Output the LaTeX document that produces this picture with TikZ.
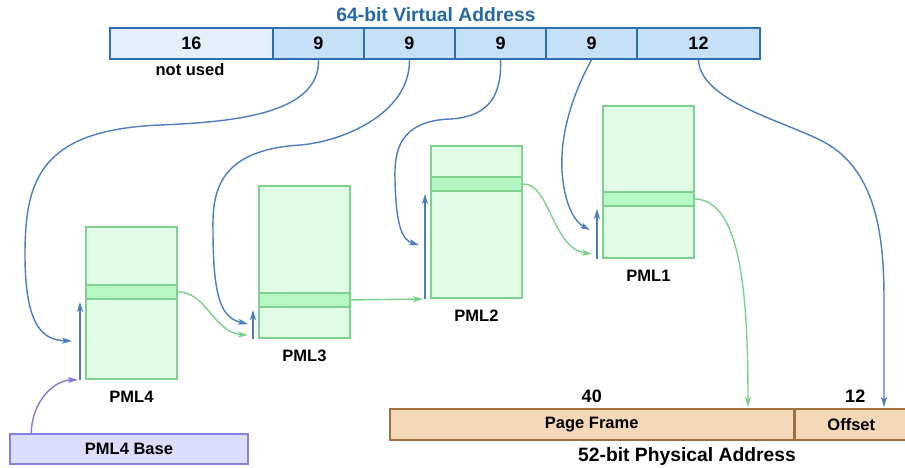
\documentclass[tikz,border=0pt]{standalone}
\usepackage{fontspec}
\setmainfont{Liberation Sans}
\usetikzlibrary{arrows.meta,positioning}

\definecolor{vfill}{HTML}{C5E0F7}
\definecolor{vfillu}{HTML}{E3F0FC}
\definecolor{vline}{HTML}{2E6EB4}
\definecolor{vtext}{HTML}{2568A8}
\definecolor{vptrc}{HTML}{4A7EBE}
\definecolor{gfill}{HTML}{E0FBE6}
\definecolor{gband}{HTML}{B6F8C4}
\definecolor{gline}{HTML}{7ED18E}
\definecolor{gptrc}{HTML}{7CCF8C}
\definecolor{pfill}{HTML}{F4D8B8}
\definecolor{pline}{HTML}{A07040}
\definecolor{bfill}{HTML}{DCDCFC}
\definecolor{bline}{HTML}{8880E0}
\definecolor{bptrc}{HTML}{8874E0}

\begin{document}
\begin{tikzpicture}[x=1pt, y=-1pt, line width=1.4pt,
   font=\bfseries\fontsize{16.5}{19}\selectfont,
   numfont/.style={font=\bfseries\fontsize{18}{20}\selectfont},
   titlefont/.style={font=\bfseries\fontsize{19.3}{22}\selectfont},
   cell/.style={draw=vline, fill=vfill, line width=1.5pt, minimum height=31pt, inner sep=0pt, numfont},
   pml/.style={draw=gline, fill=gfill, line width=1.9pt, minimum width=91pt, minimum height=152pt, inner sep=0pt, anchor=north west},
   band/.style={draw=gline, fill=gband, line width=1.9pt, minimum width=91pt, minimum height=14pt, inner sep=0pt, anchor=north west},
   paddr/.style={draw=pline, fill=pfill, line width=1.5pt, minimum height=31pt, inner sep=0pt, anchor=north west},
   tip/.style={-{Stealth[length=10pt,width=6pt,inset=2.5pt]}},
   vptr/.style={draw=vptrc, tip},
   gptr/.style={draw=gptrc, tip},
   bptr/.style={draw=bptrc, tip}]
\useasboundingbox (0,0) rectangle (905,467);

% virtual address
\node[titlefont, text=vtext] (vtitle) at (436,15) {64-bit Virtual Address};
\node[cell, fill=vfillu, minimum width=163pt] (c0) at (191.5,43.5) {16};
\foreach \xa/\xb/\t/\n in {273/364/9/c1, 364/455/9/c2, 455/546/9/c3, 546/637/9/c4, 637/760/12/c5}
   \node[cell, minimum width={(\xb-\xa)*1pt}] (\n) at ({(\xa+\xb)/2},43.5) {\t};
\node (unused) at (190,70) {not used};

% page tables
\foreach \n/\x/\y/\b in {4/85/226/58, 3/258/185/107, 2/430/145/31, 1/602/105/86} {
   \node[pml] (t\n) at (\x,\y) {};
   \node[band] (b\n) at ([yshift={-\b*1pt}]t\n.north west) {};
   \node[below=7pt of t\n] (l\n) {PML\n};
   \draw[vptr] ([xshift=-5pt]t\n.south west) -- ([xshift=-5pt,yshift=-2pt]b\n.south west);
}

\coordinate (in4) at (72,341);
\coordinate (in3) at (248,324);
\coordinate (in2) at (419,245);
\coordinate (in1) at (590,230);
\coordinate (gin3) at (248,335);
\coordinate (gin2) at (423,299);
\coordinate (gin1) at (592,254);

% physical address
\node[paddr, minimum width=404pt] (pf) at (389,408) {Page Frame};
\node[paddr, minimum width=112pt] (off) at (pf.north east) {Offset};
\node[numfont, above=1pt of pf] (n40) {40};
\node[numfont, above=1pt of off, xshift=4pt] (n12) {12};
\node[titlefont] (ptitle) at (687,456) {52-bit Physical Address};
\coordinate (pfin) at (748,407);
\coordinate (offin) at (884,407);

% base register
\node[draw=bline, fill=bfill, line width=1.5pt, minimum width=238pt, minimum height=30pt] (base) at (129,449) {PML4 Base};

% index lookups
\draw[vptr] (c1.south) .. controls (320,115) and (230,122) .. (160,125)
   .. controls (40,130) and (25,180) .. (25,255) .. controls (25,330) and (45,340) .. (in4);
\draw[vptr] (c2.south) .. controls (410,115) and (340,142) .. (300,145)
   .. controls (220,150) and (212,190) .. (213,230) .. controls (213,300) and (222,318) .. (in3);
\draw[vptr] (c3.south) .. controls (502,100) and (485,117) .. (450,119)
   .. controls (400,121) and (394,150) .. (395,180) .. controls (396,225) and (402,240) .. (in2);
\draw[vptr] (c4.south) .. controls (575,90) and (560,130) .. (562,170)
   .. controls (564,205) and (575,222) .. (in1);
\draw[vptr] (c5.south) .. controls (700,100) and (780,120) .. (820,140)
   .. controls (878,168) and (884,240) .. (884,300) -- (offin);

% table entries
\draw[gptr] (b4.east) .. controls (205,291) and (215,333) .. (gin3);
\draw[gptr] (b3.east) -- (gin2);
\draw[gptr] (b2.east) .. controls (550,183) and (552,248) .. (gin1);
\draw[gptr] (b1.east) .. controls (740,200) and (748,290) .. (pfin);
\draw[bptr] ([xshift=22pt]base.north west) .. controls (32,400) and (55,380) .. ([xshift=-7pt]t4.south west);
\end{tikzpicture}
\end{document}
